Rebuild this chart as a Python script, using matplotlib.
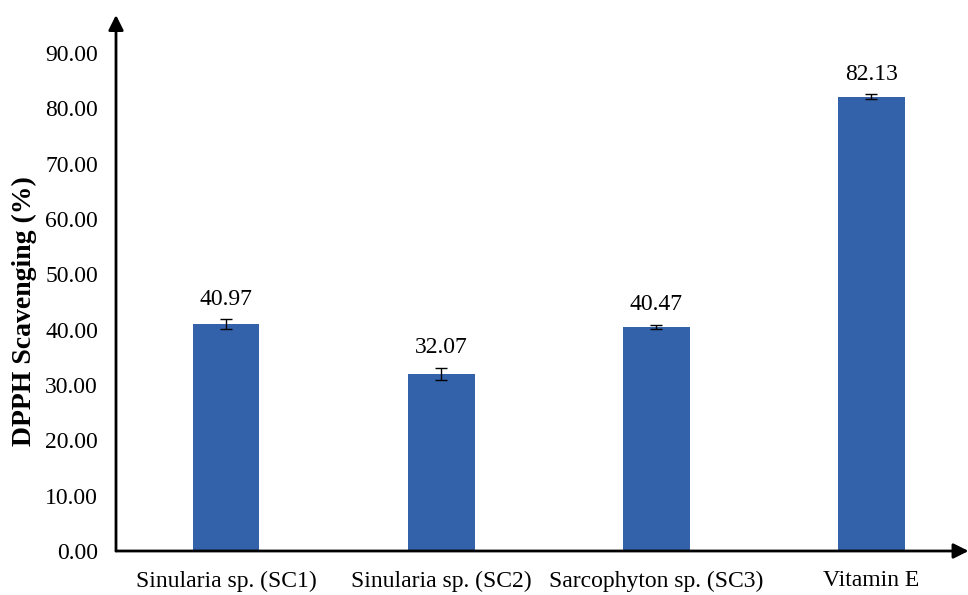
import numpy as np
import matplotlib.pyplot as plt

plt.rcParams['font.family'] = ['Liberation Serif', 'DejaVu Serif']

samples = ['Sinularia sp. (SC1)', 'Sinularia sp. (SC2)', 'Sarcophyton sp. (SC3)', 'Vitamin E']
scavenging = [40.97, 32.07, 40.47, 82.13]
errors = [0.9, 1.1, 0.35, 0.4]
yticks = [0, 10, 20, 30, 40, 50, 60, 70, 80, 90]

fig = plt.figure(figsize=(9.68, 5.95), dpi=100)
ax = fig.add_axes([116/968, 44/595, 850/968, 536/595])

x = np.arange(len(samples))
ax.bar(x, scavenging, width=0.31, color='#3462AA', zorder=2)
ax.errorbar(x, scavenging, yerr=errors, fmt='none', ecolor='black',
            elinewidth=1.0, capsize=4.5, capthick=1.0, zorder=3)

for xi, v, e in zip(x, scavenging, errors):
    ax.annotate(f'{v:.2f}', (xi, v + e), xytext=(0, 7), textcoords='offset points',
                ha='center', va='bottom', fontsize=17)

ax.set_xlim(-0.512, 3.44)
ax.set_ylim(0, 96.9)
ax.set_xticks(x)
ax.set_xticklabels(samples, fontsize=17)
ax.set_yticks(yticks)
ax.set_yticklabels([f'{t:.2f}' for t in yticks], fontsize=17)
ax.tick_params(length=0)
ax.tick_params(axis='x', pad=14)
ax.tick_params(axis='y', pad=13)

for s in ax.spines.values():
    s.set_visible(False)

# axis lines with arrow heads
arrow = dict(arrowstyle='-|>,head_length=0.9,head_width=0.45', color='black',
             lw=2, shrinkA=0, shrinkB=0)
ax.annotate('', xy=(0, 1), xytext=(0, 0), xycoords='axes fraction', arrowprops=arrow,
            annotation_clip=False)
ax.annotate('', xy=(1.003, 0), xytext=(0, 0), xycoords='axes fraction', arrowprops=arrow,
            annotation_clip=False)

ax.set_ylabel('DPPH Scavenging (%)', fontsize=20, fontweight='bold')
ax.yaxis.set_label_coords(-0.093, 0.448)

fig.savefig('out.png', dpi=100)
